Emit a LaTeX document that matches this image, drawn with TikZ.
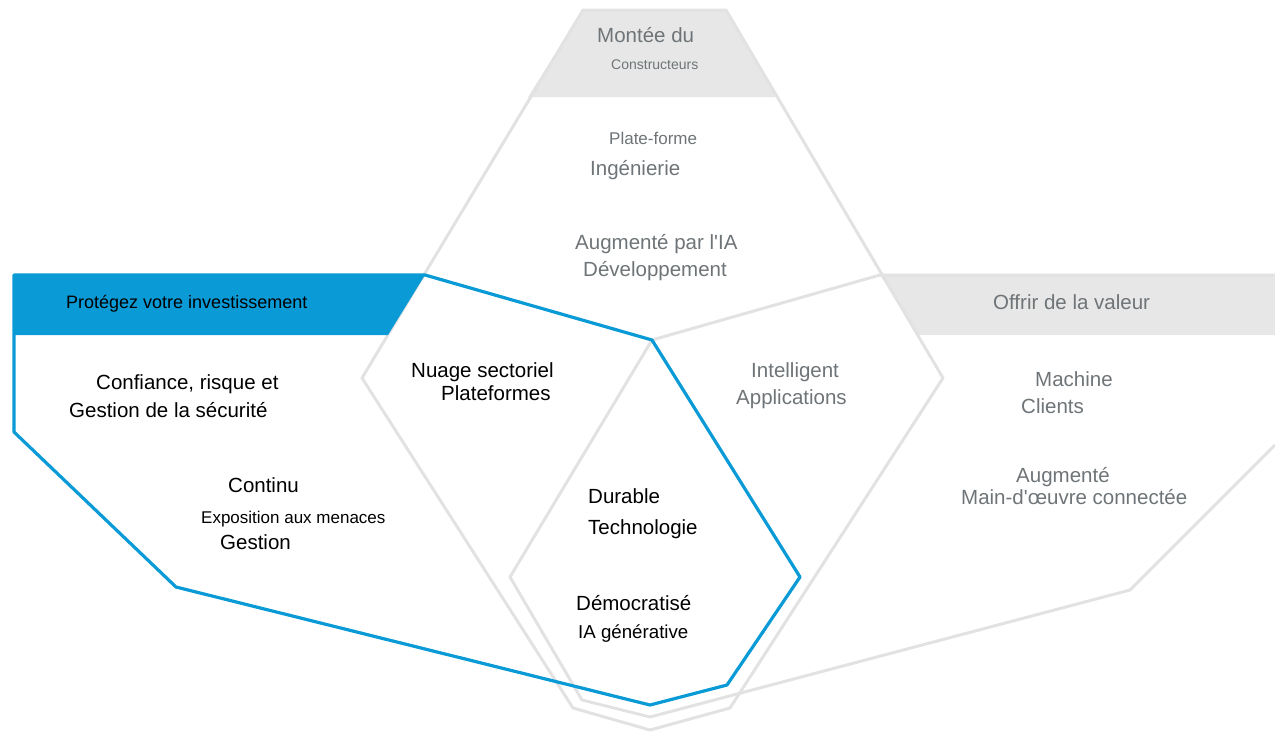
\documentclass[tikz,border=0pt]{standalone}
\usepackage{fontspec}
\setmainfont{Liberation Sans}[Ligatures=TeXOff]
\usepackage{tikz}
\usetikzlibrary{positioning}

\definecolor{gtblue}{HTML}{0A9AD6}
\definecolor{gtline}{HTML}{E2E2E2}
\definecolor{gthead}{HTML}{E7E7E7}
\definecolor{gttext}{HTML}{6E7477}

\begin{document}
\begin{tikzpicture}[x=1pt, y=-1pt,
    outline/.style={draw=gtline, line width=3pt, line join=round},
    blueline/.style={draw=gtblue, line width=3.2pt, line join=round},
    darktxt/.style={anchor=base west, inner sep=0pt, text=black, font=\fontsize{20.5}{22}\selectfont},
    grytxt/.style={darktxt, text=gttext},
    smalltxt/.style={font=\fontsize{17}{19}\selectfont},
    tinytxt/.style={font=\fontsize{14}{16}\selectfont}
]
\useasboundingbox (0,0) rectangle (1275,732);

% header bands
\fill[gthead] (583,10) -- (726,10) -- (776,97) -- (528,97) -- cycle;
\fill[gthead] (880,275) -- (1275,275) -- (1275,335) -- (918,335) -- cycle;

% grey groups
\draw[outline] (583,10) -- (726,10) -- (943,378) -- (730,708) -- (650,730) -- (573,708) -- (362,378) -- cycle;
\draw[outline] (1275,275) -- (880,275) -- (652,340) -- (510,577) -- (582,700) -- (650,717) -- (1130,590) -- (1275,445);

% blue group
\fill[gtblue] (14,275) -- (425,275) -- (388,335) -- (14,335) -- cycle;
\draw[blueline] (14,275) -- (425,275) -- (652,340) -- (800,577) -- (727,685) -- (650,705) -- (176,587) -- (14,432) -- cycle;

% top group
\node[grytxt] (montee) at (597,42) {Montée du};
\node[grytxt, tinytxt] (constr) at (611,69) {Constructeurs};
\node[grytxt, smalltxt] (plate) at (609,144) {Plate-forme};
\node[grytxt] (ingen) at (590,175) {Ingénierie};
\node[grytxt] (augia) at (575,249) {Augmenté par l'IA};
\node[grytxt] (devel) at (583,276) {Développement};

% left group
\node[darktxt, font=\fontsize{18}{20}\selectfont] (protect) at (66,308) {Protégez votre investissement};
\node[darktxt] (trust) at (96,389) {Confiance, risque et};
\node[darktxt] (secu) at (69,417) {Gestion de la sécurité};
\node[darktxt] (contin) at (228,492) {Continu};
\node[darktxt, smalltxt] (expo) at (201,523) {Exposition aux menaces};
\node[darktxt] (gest) at (220,549) {Gestion};

% shared areas
\node[darktxt] (nuage) at (411,377) {Nuage sectoriel};
\node[darktxt] (platf) at (441,400) {Plateformes};
\node[grytxt] (intel) at (751,377) {Intelligent};
\node[grytxt] (appli) at (736,404) {Applications};
\node[darktxt] (durab) at (588,503) {Durable};
\node[darktxt] (techno) at (588,534) {Technologie};
\node[darktxt] (democ) at (576,610) {Démocratisé};
\node[darktxt, font=\fontsize{18.7}{21}\selectfont] (iagen) at (578,638) {IA générative};

% right group
\node[grytxt] (offrir) at (993,309) {Offrir de la valeur};
\node[grytxt] (machine) at (1035,386) {Machine};
\node[grytxt] (clients) at (1021,413) {Clients};
\node[grytxt] (augm) at (1016,482) {Augmenté};
\node[grytxt] (maindo) at (961,504) {Main-d'œuvre connectée};

\end{tikzpicture}
\end{document}
